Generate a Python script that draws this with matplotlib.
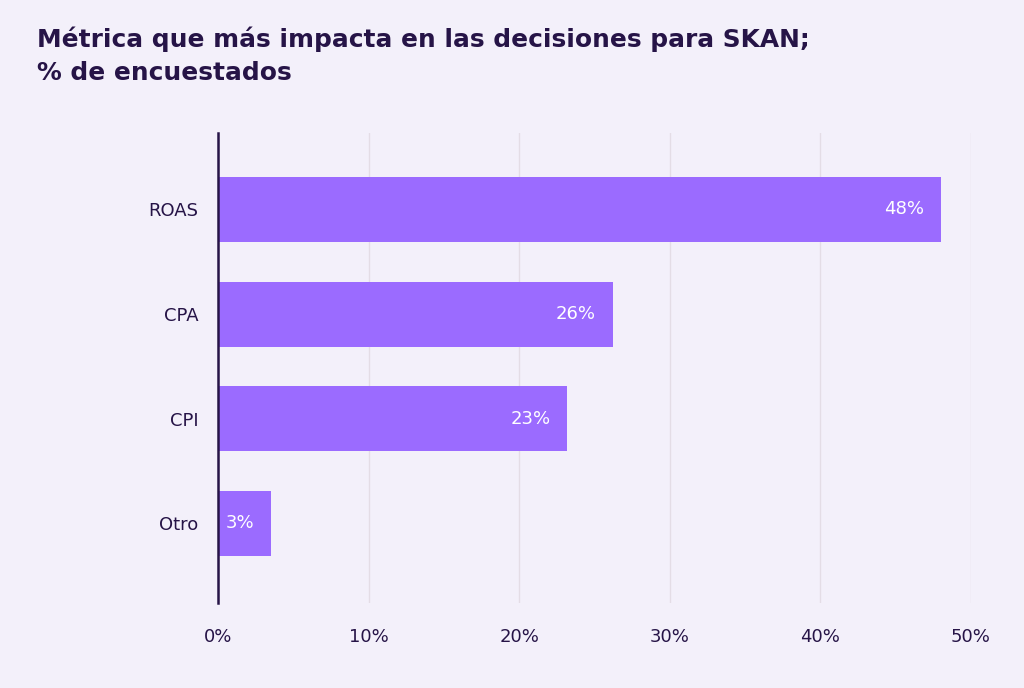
import matplotlib.pyplot as plt

categories = ["ROAS", "CPA", "CPI", "Otro"]
values = [48.0, 26.2, 23.2, 3.5]
value_labels = ["48%", "26%", "23%", "3%"]
xticks = [0, 10, 20, 30, 40, 50]
xtick_labels = ["0%", "10%", "20%", "30%", "40%", "50%"]

BG = "#f3f0fa"
BAR = "#9b6bff"
DARK = "#261447"

plt.rcParams["font.family"] = ["DejaVu Sans"]

fig = plt.figure(figsize=(10.24, 6.88), dpi=100, facecolor=BG)
ax = fig.add_axes([218 / 1024, 1 - 603 / 688, (971 - 218) / 1024, (603 - 133) / 688])
ax.set_facecolor(BG)

pos = range(len(categories))
ax.barh(pos, values, height=0.62, color=BAR, zorder=3)

for y, v, lab in zip(pos, values, value_labels):
    ax.text(v - 1.1, y, lab, color="white", fontsize=13, ha="right", va="center", zorder=4)

ax.set_xlim(0, 50)
ax.set_ylim(3.76, -0.73)
ax.set_yticks(list(pos))
ax.set_yticklabels(categories)
ax.set_xticks(xticks)
ax.set_xticklabels(xtick_labels)
ax.tick_params(axis="both", length=0, labelsize=13, colors=DARK)
ax.tick_params(axis="x", pad=18)
ax.tick_params(axis="y", pad=14)

ax.grid(axis="x", color="#e4dde6", linewidth=1, zorder=0)
for s in ["top", "right", "bottom"]:
    ax.spines[s].set_visible(False)
ax.spines["left"].set_color(DARK)
ax.spines["left"].set_linewidth(1.8)
ax.spines["left"].set_zorder(5)

fig.text(37 / 1024, 1 - 27 / 688, "Métrica que más impacta en las decisiones para SKAN;\n% de encuestados",
         fontsize=17.9, fontweight="bold", color=DARK, ha="left", va="top", linespacing=1.45)

fig.savefig("out.png", dpi=100, facecolor=BG)
